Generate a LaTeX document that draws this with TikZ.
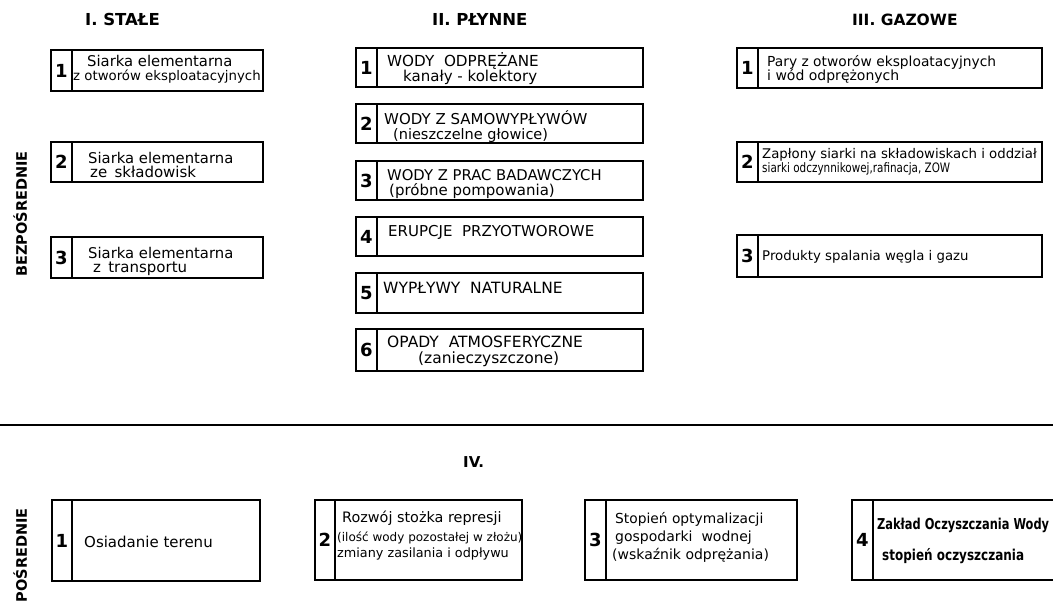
\documentclass[tikz,border=0pt]{standalone}
\usepackage{fontspec}
\setmainfont{DejaVu Sans}
\newcommand\fs[1]{\fontsize{#1}{#1}\selectfont}
\tikzset{
  frame/.style={draw, line width=2.4pt, inner sep=0pt, outer sep=0pt},
  divline/.style={line width=1.1pt},
  numtxt/.style={font=\fs{18}\bfseries, inner sep=0pt},
  ln/.style={anchor=base west, inner sep=0pt, font=\fs{#1}},
  ln/.default=14.5,
  lnb/.style={anchor=base west, inner sep=0pt, font=\fs{#1}\bfseries},
  ttl/.style={anchor=base west, inner sep=0pt, font=\fs{#1}\bfseries},
  ttl/.default=16.5,
  side/.style={inner sep=0pt, font=\fs{14.5}\bfseries, rotate=90},
  sepline/.style={line width=1.8pt},
}
% name, x, y, width, height, divider offset, number
\newcommand\srcbox[7]{%
  \node[frame, anchor=north west, minimum width=#4pt, minimum height=#5pt] (#1) at (#2,#3) {};
  \path (#1.north west) ++(#6,0) coordinate (#1d);
  \draw[divline] (#1d) -- (#1d |- #1.south);
  \path (#1.west) -- (#1.west -| #1d) node[midway, numtxt] (#1n) {#7};
}
\newcommand\nx[2]{\scalebox{#1}[1]{#2}}
\begin{document}
\begin{tikzpicture}[x=1pt, y=-1pt]
\clip (0,0) rectangle (1053,606);
\fill[white] (0,0) rectangle (1053,606);

% titles
\node[ttl] (t1) at (85,25) {I. STAŁE};
\node[ttl] (t2) at (432,25) {II. PŁYNNE};
\node[ttl=15.5] (t3) at (852,25) {III. GAZOWE};
\node[ttl=15] (t4) at (463,467) {IV.};
\node[side, anchor=base west] (bez) at (27,277) {BEZPOŚREDNIE};
\node[side, anchor=base east] (pos) at (27,508) {POŚREDNIE};

% separator
\coordinate (sepL) at (0,425);
\coordinate (sepR) at (1053,425);
\draw[sepline] (sepL) -- (sepR);

% I. STALE
\srcbox{s1}{51}{50}{212}{41}{21}{1}
\srcbox{s2}{51}{142}{212}{40}{21}{2}
\srcbox{s3}{51}{237}{212}{41}{21}{3}
\node[ln=14.8] (s1a) at (87,66) {Siarka elementarna};
\node[ln=13.3] (s1b) at (73,80) {z otworów eksploatacyjnych};
\node[ln=14.8] (s2a) at (88,163) {Siarka elementarna};
\node[ln=15] (s2b) at (90,177) {ze\, składowisk};
\node[ln=14.8] (s3a) at (88,258) {Siarka elementarna};
\node[ln=15] (s3b) at (93,272) {z\, transportu};

% II. PLYNNE
\srcbox{p1}{356}{48}{287}{39}{21}{1}
\srcbox{p2}{356}{104}{287}{39}{21}{2}
\srcbox{p3}{356}{161}{287}{39}{21}{3}
\srcbox{p4}{356}{217}{287}{39}{21}{4}
\srcbox{p5}{356}{273}{287}{40}{21}{5}
\srcbox{p6}{356}{329}{287}{42}{21}{6}
\node[ln=15.2] (p1a) at (387,66) {WODY\ \ ODPRĘŻANE};
\node[ln=15] (p1b) at (403,81) {kanały - kolektory};
\node[ln=15] (p2a) at (384,124) {WODY Z SAMOWYPŁYWÓW};
\node[ln=14.5] (p2b) at (393,139) {(nieszczelne głowice)};
\node[ln=14.8] (p3a) at (387,180) {WODY Z PRAC BADAWCZYCH};
\node[ln=15] (p3b) at (389,195) {(próbne pompowania)};
\node[ln=15] (p4a) at (388,236) {ERUPCJE\ \ PRZYOTWOROWE};
\node[ln=15.5] (p5a) at (383,293) {WYPŁYWY\ \ NATURALNE};
\node[ln=15.5] (p6a) at (387,347) {OPADY\ \ ATMOSFERYCZNE};
\node[ln=15.5] (p6b) at (418,363) {(zanieczyszczone)};

% III. GAZOWE
\srcbox{g1}{737}{48}{305}{40}{21}{1}
\srcbox{g2}{737}{142}{305}{40}{21}{2}
\srcbox{g3}{737}{235}{305}{42}{21}{3}
\node[ln=13.8] (g1a) at (767,66) {Pary z otworów eksploatacyjnych};
\node[ln=14] (g1b) at (767,80) {i wód odprężonych};
\node[ln=13.3] (g2a) at (762,158) {Zapłony siarki na składowiskach i oddział};
\node[ln=13] (g2b) at (762,172) {\nx{0.8}{siarki odczynnikowej,rafinacja, ZOW}};
\node[ln=13.3] (g3a) at (762,260) {Produkty spalania węgla i gazu};

% IV.
\srcbox{i1}{52}{500}{208}{81}{20}{1}
\srcbox{i2}{315}{500}{207}{80}{20}{2}
\srcbox{i3}{585}{500}{212}{80}{21}{3}
\srcbox{i4}{852}{500}{215}{80}{21}{4}
\node[ln=15] (i1a) at (84,547) {Osiadanie terenu};
\node[ln=14.4] (i2a) at (342,522) {Rozwój stożka represji};
\node[ln=12] (i2b) at (337,541) {(ilość wody pozostałej w złożu)};
\node[ln=12.8] (i2c) at (337,557) {zmiany zasilania i odpływu};
\node[ln=13.8] (i3a) at (615,523) {Stopień optymalizacji};
\node[ln=14] (i3b) at (615,541) {gospodarki\ \ wodnej};
\node[ln=14] (i3c) at (612,559) {(wskaźnik odprężania)};
\node[lnb=15] (i4a) at (877,529) {\nx{0.76}{Zakład Oczyszczania Wody}};
\node[lnb=15] (i4b) at (882,560) {\nx{0.8}{stopień oczyszczania}};
\end{tikzpicture}
\end{document}
